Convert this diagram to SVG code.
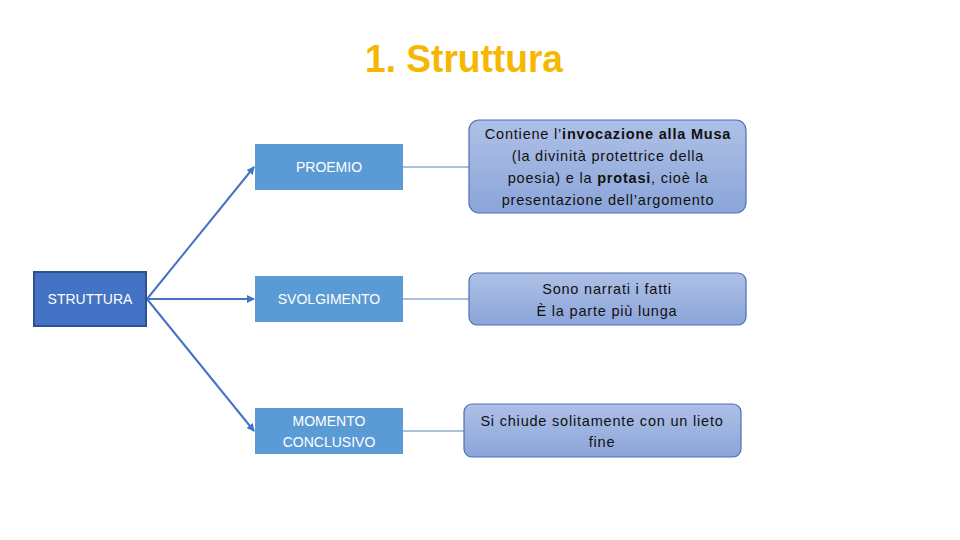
<svg xmlns="http://www.w3.org/2000/svg" width="960" height="540" viewBox="0 0 960 540">
<style>
.t{font-family:"Liberation Sans","Open Sans",sans-serif;}
.w{fill:#ffffff;font-size:14px;text-anchor:middle;}
.d{fill:#111111;font-size:14.5px;text-anchor:middle;letter-spacing:0.8px;}
.mid{fill:#5B9BD5;}
.rb{fill:url(#g);stroke:#4A6FB5;stroke-width:1.2;}
.arr{stroke:#4472C4;stroke-width:2;fill:none;marker-end:url(#ah);}
.ln{stroke:#5B7FB8;stroke-width:1;fill:none;}
</style>
<defs>
<linearGradient id="g" x1="0" y1="0" x2="0" y2="1">
<stop offset="0" stop-color="#AEC0E6"/>
<stop offset="1" stop-color="#8BA5D9"/>
</linearGradient>
<marker id="ah" markerWidth="8" markerHeight="8" refX="7" refY="4" orient="auto" markerUnits="userSpaceOnUse">
<path d="M0,0 L8,4 L0,8 Z" fill="#4472C4"/>
</marker>
</defs>
<rect width="960" height="540" fill="#ffffff"/>
<text class="t" x="464" y="72" font-size="38" font-weight="bold" fill="#F5B700" text-anchor="middle" textLength="198" lengthAdjust="spacingAndGlyphs">1. Struttura</text>
<g id="connectors">
<line class="arr" x1="147" y1="299" x2="254" y2="167"/>
<line class="arr" x1="147" y1="299" x2="254" y2="299"/>
<line class="arr" x1="147" y1="299" x2="254" y2="431"/>
<line class="ln" x1="403" y1="167" x2="469" y2="167"/>
<line class="ln" x1="403" y1="299" x2="469" y2="299"/>
<line class="ln" x1="403" y1="431" x2="464" y2="431"/>
</g>
<g id="struttura">
<rect x="34" y="272" width="112" height="54" fill="#4472C4" stroke="#2F528F" stroke-width="2"/>
<text class="t w" x="90" y="304">STRUTTURA</text>
</g>
<g id="proemio">
<rect class="mid" x="255" y="144" width="148" height="46"/>
<text class="t w" x="329" y="172">PROEMIO</text>
</g>
<g id="svolgimento">
<rect class="mid" x="255" y="276" width="148" height="46"/>
<text class="t w" x="329" y="304">SVOLGIMENTO</text>
</g>
<g id="momento">
<rect class="mid" x="255" y="408" width="148" height="46"/>
<text class="t w" x="329" y="426">MOMENTO</text>
<text class="t w" x="329" y="447">CONCLUSIVO</text>
</g>
<g id="desc-proemio">
<rect class="rb" x="469" y="120" width="277" height="93" rx="10"/>
<text class="t d" x="608" y="139">Contiene l’<tspan font-weight="bold">invocazione alla Musa</tspan></text>
<text class="t d" x="608" y="161">(la divinità protettrice della</text>
<text class="t d" x="608" y="183">poesia)  e la <tspan font-weight="bold">protasi</tspan>, cioè la</text>
<text class="t d" x="608" y="205">presentazione dell’argomento</text>
</g>
<g id="desc-svolgimento">
<rect class="rb" x="469" y="273" width="277" height="52" rx="8"/>
<text class="t d" x="607" y="294">Sono narrati i fatti</text>
<text class="t d" x="607" y="316">È la parte più lunga</text>
</g>
<g id="desc-momento">
<rect class="rb" x="464" y="404" width="277" height="53" rx="8"/>
<text class="t d" x="602" y="426">Si chiude solitamente con un lieto</text>
<text class="t d" x="602" y="447">fine</text>
</g>
</svg>
